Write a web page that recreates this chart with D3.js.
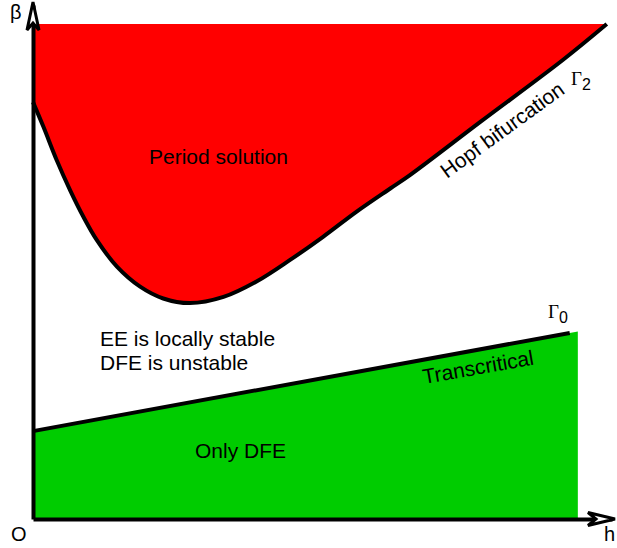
<!DOCTYPE html>
<html>
<head>
<meta charset="utf-8">
<script src="https://cdn.jsdelivr.net/npm/d3@7"></script>
<style>
  html, body { margin: 0; padding: 0; background: #fff; }
  svg { display: block; }
  text { font-family: "Liberation Sans", Arial, Helvetica, sans-serif; fill: #000; }
  .serif { font-family: "Liberation Serif", "Times New Roman", serif; }
</style>
</head>
<body>
<svg id="chart" width="617" height="548"></svg>
<script>
// Hopf bifurcation curve Γ2 in the (h, β) plane
const hopfH    = [0, 0.18, 0.41, 0.64, 0.87, 1.10, 1.45, 1.85, 2.25, 2.71, 3.29, 3.86, 4.44, 5.01, 5.59, 6.17, 6.51, 7.72, 9.15, 9.91];
const hopfBeta = [8.11, 7.63, 6.98, 6.40, 5.88, 5.43, 4.91, 4.52, 4.29, 4.20, 4.32, 4.62, 5.04, 5.49, 5.98, 6.43, 6.69, 7.72, 8.93, 9.63];
// upper edge of the periodic-solution region
const betaTop = 9.63;

// Transcritical line Γ0
const transH    = [0, 9.27];
const transBeta = [1.71, 3.62];

// region where only the DFE exists (below Γ0)
const dfeH   = [0, 9.41];
const dfeTop = [1.71, 3.65];

// region labels
const regionLabels = ["Period solution", "EE is locally stable", "DFE is unstable", "Only DFE"];
const curveLabels = ["Hopf bifurcation", "Transcritical"];
const axisLabels = ["β", "h", "O"];

const svg = d3.select("#chart");
const x = d3.scaleLinear().domain([0, 10]).range([33, 612]);
const y = d3.scaleLinear().domain([0, 10]).range([519, 5]);

const hopf = hopfH.map((h, i) => ({ h, b: hopfBeta[i] }));
const trans = transH.map((h, i) => ({ h, b: transBeta[i] }));
const dfe = dfeH.map((h, i) => ({ h, b: dfeTop[i] }));

// periodic-solution region (red)
svg.append("path")
  .datum(hopf)
  .attr("fill", "#ff0000")
  .attr("d", d3.area()
    .x(d => x(d.h))
    .y0(y(betaTop))
    .y1(d => y(d.b))
    .curve(d3.curveCatmullRom.alpha(0.5)));

// only-DFE region (green)
svg.append("path")
  .datum(dfe)
  .attr("fill", "#00cc00")
  .attr("d", d3.area()
    .x(d => x(d.h))
    .y0(y(0))
    .y1(d => y(d.b)));

// Γ2 curve
svg.append("path")
  .datum(hopf)
  .attr("fill", "none")
  .attr("stroke", "#000")
  .attr("stroke-width", 4)
  .attr("d", d3.line()
    .x(d => x(d.h))
    .y(d => y(d.b))
    .curve(d3.curveCatmullRom.alpha(0.5)));

// Γ0 line
svg.append("path")
  .datum(trans)
  .attr("fill", "none")
  .attr("stroke", "#000")
  .attr("stroke-width", 4)
  .attr("d", d3.line().x(d => x(d.h)).y(d => y(d.b)));

// axes without ticks
const xAxis = svg.append("g")
  .attr("transform", `translate(0,${y(0)})`)
  .call(d3.axisBottom(x).tickValues([]).tickSizeOuter(0));
const yAxis = svg.append("g")
  .attr("transform", `translate(${x(0)},0)`)
  .call(d3.axisLeft(y).tickValues([]).tickSizeOuter(0));
[xAxis, yAxis].forEach(g => g.select(".domain").attr("stroke", "#000").attr("stroke-width", 4));

// open arrowheads at the ends of both axes
const x0 = x(0), y0 = y(0);
svg.append("path")
  .attr("d", `M${x0},2 L${x0 - 6},30 L${x0},23 L${x0 + 6},30 Z`)
  .attr("fill", "#fff").attr("stroke", "#000").attr("stroke-width", 3).attr("stroke-linejoin", "miter");
const xe = x(10) + 3;
svg.append("path")
  .attr("d", `M${xe},${y0} L${xe - 27},${y0 - 6.5} L${xe - 19},${y0} L${xe - 27},${y0 + 6.5} Z`)
  .attr("fill", "#fff").attr("stroke", "#000").attr("stroke-width", 3).attr("stroke-linejoin", "miter");

// axis labels
svg.append("text").attr("x", 10).attr("y", 19).attr("font-size", 20).text(axisLabels[0]);
svg.append("text").attr("x", 604).attr("y", 541).attr("font-size", 20).text(axisLabels[1]);
svg.append("text").attr("x", 11).attr("y", 541).attr("font-size", 20).text(axisLabels[2]);

// region labels
const fs = 21;
svg.append("text").attr("x", 149).attr("y", 164).attr("font-size", fs).text(regionLabels[0]);
svg.append("text").attr("x", 100).attr("y", 346).attr("font-size", fs).text(regionLabels[1]);
svg.append("text").attr("x", 100).attr("y", 370).attr("font-size", fs).text(regionLabels[2]);
svg.append("text").attr("x", 195).attr("y", 458).attr("font-size", fs).text(regionLabels[3]);

// curve labels, rotated along the curves
svg.append("text").attr("font-size", fs)
  .attr("transform", "translate(447,179) rotate(-36)").text(curveLabels[0]);
svg.append("text").attr("font-size", fs)
  .attr("transform", "translate(424,384) rotate(-10)").text(curveLabels[1]);

// curve names Γ2 and Γ0
function gammaLabel(px, py, sub) {
  const t = svg.append("text").attr("x", px).attr("y", py);
  t.append("tspan").attr("class", "serif").attr("font-size", 19).text("Γ");
  t.append("tspan").attr("font-size", 16).attr("dy", 5).text(sub);
}
gammaLabel(571, 85, "2");
gammaLabel(548, 318, "0");
</script>
</body>
</html>
